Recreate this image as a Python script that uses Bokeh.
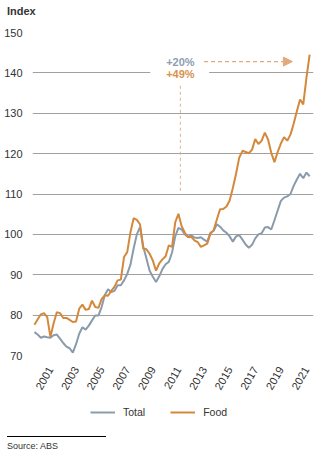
import math
import numpy as np
from bokeh.plotting import figure
from bokeh.layouts import column
from bokeh.models import (Range1d, FixedTicker, Label, Legend, LegendItem, Arrow,
                          NormalHead, BoxAnnotation, ColumnDataSource, Div)
from bokeh.embed import file_html
from bokeh.resources import INLINE

# ---- data (quarterly index) ----
start_year = 1999.75
total = [75.8, 75.2, 74.4, 74.7, 74.5, 74.4, 75.0, 75.2, 74.2, 73.1,
         72.2, 71.8, 70.7, 72.8, 75.4, 77.0, 76.4, 77.4, 78.7, 79.9,
         79.9, 82.0, 85.0, 86.4, 85.7, 86.0, 87.4, 87.4, 88.6, 90.2,
         92.5, 96.5, 100.0, 101.8, 97.0, 94.0, 91.0, 89.5, 88.2, 89.6,
         91.4, 92.6, 93.2, 95.5, 99.5, 101.6, 101.2, 100.0, 99.4, 99.8,
         99.2, 99.1, 99.3, 98.7, 98.2, 100.4, 100.9, 102.5, 101.9, 101.0,
         100.4, 99.5, 98.2, 99.5, 99.8, 98.7, 97.5, 96.7, 97.4, 99.0,
         100.0, 100.3, 101.7, 101.8, 101.2, 103.5, 105.9, 108.3, 109.1, 109.4,
         110.0, 112.0, 113.6, 115.0, 113.9, 115.3, 114.4]
food = [77.6, 78.9, 80.2, 80.5, 79.5, 74.6, 78.0, 80.7, 80.5, 79.3,
        79.3, 78.8, 78.3, 78.4, 81.6, 82.6, 81.3, 81.5, 83.6, 82.0,
        81.8, 84.0, 84.9, 84.8, 86.0, 87.0, 88.6, 88.8, 94.4, 95.6,
        100.5, 104.0, 103.6, 102.5, 96.5, 96.3, 95.2, 93.5, 91.0, 92.8,
        93.8, 94.6, 97.3, 96.9, 103.0, 105.1, 102.0, 100.4, 99.3, 99.4,
        98.5, 98.1, 96.9, 97.3, 97.7, 100.2, 101.0, 103.7, 106.2, 106.3,
        106.9, 108.4, 111.5, 115.0, 119.0, 120.7, 120.4, 120.1, 121.0, 123.6,
        122.4, 123.2, 125.2, 123.5, 120.2, 117.9, 120.4, 122.5, 124.1, 123.2,
        124.7, 127.4, 130.5, 133.4, 132.2, 138.8, 144.5]
series_names = ["Total", "Food"]
x_ticks = [2001, 2003, 2005, 2007, 2009, 2011, 2013, 2015, 2017, 2019, 2021]
y_ticks = [70, 80, 90, 100, 110, 120, 130, 140, 150]
change_labels = ["+20%", "+49%"]
base_year = 2011.15

quarters = start_year + 0.25 * np.arange(len(total))

TOTAL_C = "#8a9bab"
FOOD_C = "#d4883b"
TEXT_C = "#333333"
FONT = "Liberation Sans"

# ---------------- title ----------------
title = Div(width=326, height=20, margin=0, text=(
    '<div style="margin:5px 0 0 7px;font-family:\'Liberation Sans\';font-size:11px;'
    'font-weight:bold;line-height:13px;color:#333;">Index</div>'))

# ---------------- main chart ----------------
p = figure(width=326, height=375, output_backend="svg", toolbar_location=None,
           x_range=Range1d(1999.6, 2021.55), y_range=Range1d(70, 150),
           min_border_left=32, min_border_right=13, min_border_top=12,
           min_border_bottom=40)
p.outline_line_color = None

src = ColumnDataSource(dict(x=quarters, total=total, food=food))
p.line("x", "total", source=src, color=TOTAL_C, line_width=2)
p.line("x", "food", source=src, color=FOOD_C, line_width=2)

p.yaxis.ticker = FixedTicker(ticks=y_ticks)
p.xaxis.ticker = FixedTicker(ticks=x_ticks)
for ax in (p.xaxis[0], p.yaxis[0]):
    ax.axis_line_color = None
    ax.major_tick_line_color = None
    ax.minor_tick_line_color = None
    ax.major_label_text_font = FONT
    ax.major_label_text_color = TEXT_C
    ax.major_label_text_font_size = "11px"
p.yaxis.major_label_standoff = 4
p.xaxis.major_label_standoff = 6
p.xaxis.major_label_orientation = math.pi / 3
p.xgrid.grid_line_color = None
p.ygrid.ticker = FixedTicker(ticks=y_ticks)
p.ygrid.grid_line_color = "#a0a0a0"
p.ygrid.grid_line_width = 1

# annotation: white gap in gridline, labels, dashed guide and arrow
p.add_layout(BoxAnnotation(left=2008.8, right=2013.4, bottom=138.2, top=141.6,
                           fill_color="white", fill_alpha=1, line_color=None))
p.segment(x0=[base_year], y0=[110.8], x1=[base_year], y1=[137.3],
          line_color="#dcb48e", line_width=1, line_dash="3 3")
p.add_layout(Arrow(end=NormalHead(size=9, fill_color="#e2aa7a", line_color="#e2aa7a"),
                   x_start=2013.0, y_start=142.8, x_end=2019.9, y_end=142.8,
                   line_color="#e2aa7a", line_width=1.2, line_dash="4 3"))
p.add_layout(Label(x=base_year, y=142.8, text=change_labels[0], text_align="center",
                   text_baseline="middle", text_font=FONT, text_font_style="bold",
                   text_font_size="11px", text_color="#8d9db0"))
p.add_layout(Label(x=base_year, y=139.8, text=change_labels[1], text_align="center",
                   text_baseline="middle", text_font=FONT, text_font_style="bold",
                   text_font_size="11px", text_color="#d8924c"))

# ---------------- footer: legend ----------------
f = figure(width=326, height=36, output_backend="svg", toolbar_location=None,
           x_range=Range1d(0, 1), y_range=Range1d(0, 1),
           x_axis_location=None, y_axis_location=None,
           min_border_left=32, min_border_right=13, min_border_top=0, min_border_bottom=0)
f.grid.grid_line_color = None
f.outline_line_color = None
# legend proxies (kept outside the visible footer range)
lt = f.line(x=[-2, -1], y=[-2, -2], color=TOTAL_C, line_width=2)
lf = f.line(x=[-2, -1], y=[-2, -2], color=FOOD_C, line_width=2)
legend = Legend(items=[LegendItem(label=series_names[0], renderers=[lt]),
                       LegendItem(label=series_names[1], renderers=[lf])],
                orientation="horizontal", location=(58, 9),
                label_text_font=FONT, label_text_font_size="10.5px",
                label_text_color=TEXT_C, glyph_width=25, label_standoff=8,
                spacing=25, padding=0, margin=0, border_line_color=None,
                background_fill_alpha=0)
f.add_layout(legend, "center")

# ---------------- source note ----------------
src_note = Div(width=326, height=32, margin=0, text=(
    '<div style="margin:5px 0 0 7px;width:99px;border-top:1px solid #000;"></div>'
    '<div style="margin:4px 0 0 7px;font-family:\'Liberation Sans\';font-size:9px;'
    'line-height:11px;color:#333;">Source: ABS</div>'))

layout = column(title, p, f, src_note, spacing=0)
open("out.html", "w").write(file_html(layout, INLINE))
